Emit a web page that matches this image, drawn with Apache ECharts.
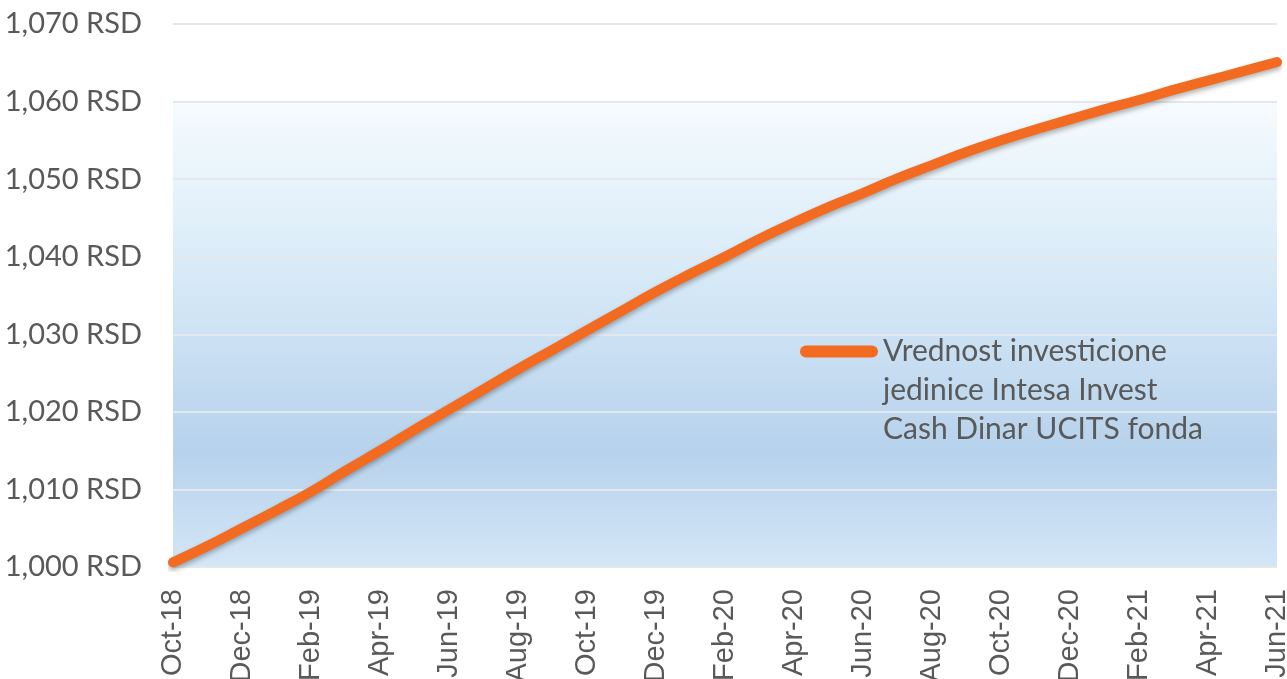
<!DOCTYPE html>
<html>
<head>
<meta charset="utf-8">
<script src="https://cdn.jsdelivr.net/npm/echarts@6/dist/echarts.min.js"></script>
<style>
  html, body { margin: 0; padding: 0; background: #fff; }
  #chart { width: 1287px; height: 679px; }
</style>
</head>
<body>
<div id="chart"></div>
<script>
// mjeseci, Oct-18 .. Jun-21
var months = ['Oct-18','Nov-18','Dec-18','Jan-19','Feb-19','Mar-19','Apr-19','May-19','Jun-19','Jul-19','Aug-19','Sep-19',
	'Oct-19','Nov-19','Dec-19','Jan-20','Feb-20','Mar-20','Apr-20','May-20','Jun-20','Jul-20','Aug-20','Sep-20',
	'Oct-20','Nov-20','Dec-20','Jan-21','Feb-21','Mar-21','Apr-21','May-21','Jun-21'];

// vrednost investicione jedinice (RSD), ocitano sa slike
var unitValue = [1000.6, 1002.7, 1005.0, 1007.3, 1009.7, 1012.4, 1015.0, 1017.7, 1020.3, 1022.9, 1025.5, 1028.0,
	1030.5, 1033.0, 1035.5, 1037.8, 1040.0, 1042.3, 1044.4, 1046.4, 1048.2, 1050.1, 1051.8, 1053.5,
	1055.0, 1056.4, 1057.7, 1059.0, 1060.2, 1061.5, 1062.7, 1063.9, 1065.1];

var yMin = 1000, yMax = 1070, yStep = 10;
var shadedFrom = 1000, shadedTo = 1060;
var seriesName = 'Vrednost investicione\njedinice Intesa Invest\nCash Dinar UCITS fonda';

var chart = echarts.init(document.getElementById('chart'));

var option = {
	animation: false,
	grid: {left: 173, right: 10, top: 24, bottom: 112, outerBoundsMode: 'none'},
	legend: {
		left: 800, top: 254, padding: 0,
		itemWidth: 78, itemHeight: 12,
		icon: 'path://M6,0 L72,0 A6,6 0 0 1 72,12 L6,12 A6,6 0 0 1 6,0 Z',
		data: [{name: seriesName}],
		// dva prazna reda ispred, da prvi red teksta stoji uz liniju
		formatter: function(name) {
			return '\n\n' + name;
		},
		textStyle: {
			fontFamily: 'Lato', fontSize: 30, color: '#595959',
			lineHeight: 39
		}
	},
	xAxis: {
		type: 'category',
		data: months,
		boundaryGap: false,
		axisLine: {show: false},
		axisTick: {show: false},
		axisLabel: {
			interval: 1, rotate: 90, margin: 22,
			fontFamily: 'Liberation Sans', fontSize: 29, color: '#595959'
		}
	},
	yAxis: {
		type: 'value',
		min: yMin, max: yMax, interval: yStep,
		z: 3,
		axisLine: {show: false},
		axisTick: {show: false},
		splitLine: {lineStyle: {color: '#e3e8ec', width: 2}},
		axisLabel: {
			margin: 31,
			fontFamily: 'Lato', fontSize: 29, color: '#595959',
			formatter: function(v) {
				return v.toLocaleString('en-US') + ' RSD';
			}
		}
	},
	series: [{
		// samo pozadina (gradijent)
		type: 'line',
		data: [],
		z: 1,
		silent: true,
		markArea: {
			silent: true,
			itemStyle: {
				color: new echarts.graphic.LinearGradient(0, 0, 0, 1, [
					{offset: 0, color: '#f6fbfe'},
					{offset: 0.35, color: '#d9ebf8'},
					{offset: 0.75, color: '#b7d2ec'},
					{offset: 1, color: '#d3e6f6'}
				])
			},
			data: [[{yAxis: shadedFrom}, {yAxis: shadedTo}]]
		}
	}, {
		name: seriesName,
		type: 'line',
		data: unitValue,
		z: 5,
		smooth: true,
		symbol: 'none',
		itemStyle: {color: '#f26b21'},
		lineStyle: {
			color: '#f26b21', width: 10, cap: 'round',
			shadowColor: 'rgba(0,0,0,0.3)', shadowBlur: 5, shadowOffsetY: 3
		}
	}]
};

chart.setOption(option);
</script>
</body>
</html>
